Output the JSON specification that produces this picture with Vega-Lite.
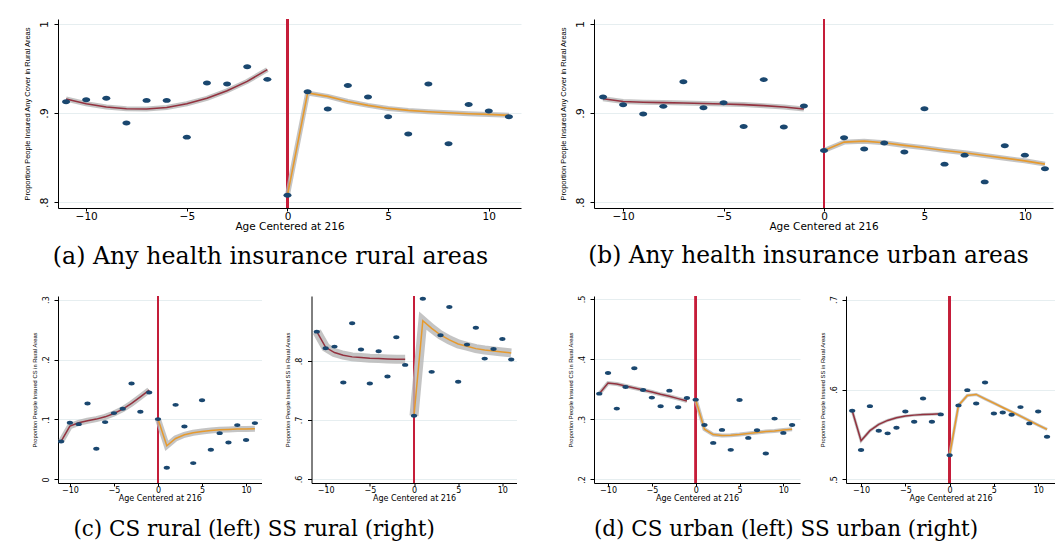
{
  "$schema": "https://vega.github.io/schema/vega-lite/v6.json",
  "background": "white",
  "padding": {"left": 23, "top": 18, "right": 0, "bottom": 0},
  "config": {
    "view": {"stroke": null, "fill": "white"},
    "axis": {"domainColor": "black", "tickColor": "black", "labelColor": "black", "titleColor": "black", "titleFontWeight": "normal", "labelFont": "DejaVu Sans", "titleFont": "DejaVu Sans"},
    "axisX": {"grid": false},
    "axisY": {"grid": true, "gridColor": "#e6eef0", "gridWidth": 1, "labelAngle": 270, "labelAlign": "center", "labelBaseline": "bottom", "titleFont": "Liberation Sans"},
    "title": {"font": "DejaVu Serif", "fontWeight": "normal", "color": "black", "orient": "bottom", "anchor": "middle"}
  },
  "datasets": {
    "a": [
      {"x": -11, "y": 0.9127, "f": 0.9157, "s": "L"}, {"x": -10, "y": 0.915, "f": 0.9105, "s": "L"}, {"x": -9, "y": 0.9165, "f": 0.9068, "s": "L"}, {"x": -8, "y": 0.8888, "f": 0.9048, "s": "L"}, {"x": -7, "y": 0.9142, "f": 0.9045, "s": "L"}, {"x": -6, "y": 0.9142, "f": 0.9062, "s": "L"}, {"x": -5, "y": 0.873, "f": 0.9105, "s": "L"}, {"x": -4, "y": 0.9337, "f": 0.9165, "s": "L"}, {"x": -3, "y": 0.9326, "f": 0.925, "s": "L"}, {"x": -2, "y": 0.952, "f": 0.9355, "s": "L"}, {"x": -1, "y": 0.9378, "f": 0.9487, "s": "L"},
      {"x": 0, "y": 0.8079, "f": 0.808, "s": "R"}, {"x": 1, "y": 0.924, "f": 0.9225, "s": "R"}, {"x": 2, "y": 0.9045, "f": 0.9187, "s": "R"}, {"x": 3, "y": 0.931, "f": 0.913, "s": "R"}, {"x": 4, "y": 0.918, "f": 0.9086, "s": "R"}, {"x": 5, "y": 0.8959, "f": 0.9052, "s": "R"}, {"x": 6, "y": 0.8764, "f": 0.903, "s": "R"}, {"x": 7, "y": 0.9326, "f": 0.9015, "s": "R"}, {"x": 8, "y": 0.8655, "f": 0.9004, "s": "R"}, {"x": 9, "y": 0.9097, "f": 0.8993, "s": "R"}, {"x": 10, "y": 0.9022, "f": 0.8985, "s": "R"}, {"x": 11, "y": 0.8959, "f": 0.8974, "s": "R"}
    ],
    "b": [
      {"x": -11, "y": 0.918, "f": 0.916, "s": "L"}, {"x": -10, "y": 0.9094, "f": 0.913, "s": "L"}, {"x": -9, "y": 0.8989, "f": 0.9122, "s": "L"}, {"x": -8, "y": 0.9075, "f": 0.9117, "s": "L"}, {"x": -7, "y": 0.9352, "f": 0.9113, "s": "L"}, {"x": -6, "y": 0.906, "f": 0.9108, "s": "L"}, {"x": -5, "y": 0.9116, "f": 0.9102, "s": "L"}, {"x": -4, "y": 0.885, "f": 0.9095, "s": "L"}, {"x": -3, "y": 0.9375, "f": 0.9083, "s": "L"}, {"x": -2, "y": 0.8843, "f": 0.9068, "s": "L"}, {"x": -1, "y": 0.9079, "f": 0.9045, "s": "L"},
      {"x": 0, "y": 0.858, "f": 0.858, "s": "R"}, {"x": 1, "y": 0.8723, "f": 0.8674, "s": "R"}, {"x": 2, "y": 0.8596, "f": 0.8685, "s": "R"}, {"x": 3, "y": 0.8663, "f": 0.8667, "s": "R"}, {"x": 4, "y": 0.8562, "f": 0.8637, "s": "R"}, {"x": 5, "y": 0.9049, "f": 0.861, "s": "R"}, {"x": 6, "y": 0.8427, "f": 0.858, "s": "R"}, {"x": 7, "y": 0.8528, "f": 0.8554, "s": "R"}, {"x": 8, "y": 0.8228, "f": 0.8524, "s": "R"}, {"x": 9, "y": 0.8633, "f": 0.8494, "s": "R"}, {"x": 10, "y": 0.8528, "f": 0.8464, "s": "R"}, {"x": 11, "y": 0.8375, "f": 0.8427, "s": "R"}
    ],
    "c1": [
      {"x": -11, "y": 0.0633, "f": 0.0633, "s": "L"}, {"x": -10, "y": 0.0944, "f": 0.0889, "s": "L"}, {"x": -9, "y": 0.0922, "f": 0.0944, "s": "L"}, {"x": -8, "y": 0.1267, "f": 0.0978, "s": "L"}, {"x": -7, "y": 0.0511, "f": 0.1006, "s": "L"}, {"x": -6, "y": 0.0956, "f": 0.1044, "s": "L"}, {"x": -5, "y": 0.1106, "f": 0.11, "s": "L"}, {"x": -4, "y": 0.1178, "f": 0.1172, "s": "L"}, {"x": -3, "y": 0.16, "f": 0.1267, "s": "L"}, {"x": -2, "y": 0.1128, "f": 0.1378, "s": "L"}, {"x": -1, "y": 0.145, "f": 0.149, "s": "L"},
      {"x": 0, "y": 0.1006, "f": 0.1006, "s": "R"}, {"x": 1, "y": 0.0194, "f": 0.0561, "s": "R"}, {"x": 2, "y": 0.1244, "f": 0.0683, "s": "R"}, {"x": 3, "y": 0.0883, "f": 0.0744, "s": "R"}, {"x": 4, "y": 0.0272, "f": 0.0778, "s": "R"}, {"x": 5, "y": 0.1322, "f": 0.08, "s": "R"}, {"x": 6, "y": 0.0494, "f": 0.0817, "s": "R"}, {"x": 7, "y": 0.0772, "f": 0.0828, "s": "R"}, {"x": 8, "y": 0.0617, "f": 0.0833, "s": "R"}, {"x": 9, "y": 0.0906, "f": 0.0839, "s": "R"}, {"x": 10, "y": 0.0656, "f": 0.0839, "s": "R"}, {"x": 11, "y": 0.0939, "f": 0.0844, "s": "R"}
    ],
    "c2": [
      {"x": -11, "y": 0.8496, "f": 0.8496, "s": "L"}, {"x": -10, "y": 0.8214, "f": 0.823, "s": "L"}, {"x": -9, "y": 0.8242, "f": 0.8141, "s": "L"}, {"x": -8, "y": 0.7634, "f": 0.8096, "s": "L"}, {"x": -7, "y": 0.8637, "f": 0.8068, "s": "L"}, {"x": -6, "y": 0.8192, "f": 0.8056, "s": "L"}, {"x": -5, "y": 0.7617, "f": 0.8045, "s": "L"}, {"x": -4, "y": 0.8163, "f": 0.8039, "s": "L"}, {"x": -3, "y": 0.7735, "f": 0.8034, "s": "L"}, {"x": -2, "y": 0.84, "f": 0.8028, "s": "L"}, {"x": -1, "y": 0.7932, "f": 0.8028, "s": "L"},
      {"x": 0, "y": 0.707, "f": 0.707, "s": "R"}, {"x": 1, "y": 0.9054, "f": 0.8682, "s": "R"}, {"x": 2, "y": 0.7814, "f": 0.8552, "s": "R"}, {"x": 3, "y": 0.8434, "f": 0.8439, "s": "R"}, {"x": 4, "y": 0.8913, "f": 0.8355, "s": "R"}, {"x": 5, "y": 0.7645, "f": 0.8287, "s": "R"}, {"x": 6, "y": 0.8276, "f": 0.8248, "s": "R"}, {"x": 7, "y": 0.8563, "f": 0.8208, "s": "R"}, {"x": 8, "y": 0.8039, "f": 0.8186, "s": "R"}, {"x": 9, "y": 0.8203, "f": 0.8169, "s": "R"}, {"x": 10, "y": 0.8372, "f": 0.8152, "s": "R"}, {"x": 11, "y": 0.8023, "f": 0.8135, "s": "R"}
    ],
    "d1": [
      {"x": -11, "y": 0.3426, "f": 0.3426, "s": "L"}, {"x": -10, "y": 0.3769, "f": 0.3603, "s": "L"}, {"x": -9, "y": 0.3177, "f": 0.3587, "s": "L"}, {"x": -8, "y": 0.3537, "f": 0.3553, "s": "L"}, {"x": -7, "y": 0.3847, "f": 0.352, "s": "L"}, {"x": -6, "y": 0.3487, "f": 0.3487, "s": "L"}, {"x": -5, "y": 0.336, "f": 0.3454, "s": "L"}, {"x": -4, "y": 0.3216, "f": 0.3415, "s": "L"}, {"x": -3, "y": 0.3476, "f": 0.3382, "s": "L"}, {"x": -2, "y": 0.3199, "f": 0.3343, "s": "L"}, {"x": -1, "y": 0.3354, "f": 0.3304, "s": "L"},
      {"x": 0, "y": 0.3326, "f": 0.3326, "s": "R"}, {"x": 1, "y": 0.2906, "f": 0.2834, "s": "R"}, {"x": 2, "y": 0.2607, "f": 0.2745, "s": "R"}, {"x": 3, "y": 0.2823, "f": 0.2729, "s": "R"}, {"x": 4, "y": 0.2491, "f": 0.2734, "s": "R"}, {"x": 5, "y": 0.3321, "f": 0.2745, "s": "R"}, {"x": 6, "y": 0.269, "f": 0.2762, "s": "R"}, {"x": 7, "y": 0.2817, "f": 0.2779, "s": "R"}, {"x": 8, "y": 0.243, "f": 0.2795, "s": "R"}, {"x": 9, "y": 0.3011, "f": 0.2806, "s": "R"}, {"x": 10, "y": 0.2773, "f": 0.2823, "s": "R"}, {"x": 11, "y": 0.2906, "f": 0.2834, "s": "R"}
    ],
    "d2": [
      {"x": -11, "y": 0.5763, "f": 0.5763, "s": "L"}, {"x": -10, "y": 0.5327, "f": 0.5431, "s": "L"}, {"x": -9, "y": 0.5815, "f": 0.5542, "s": "L"}, {"x": -8, "y": 0.5542, "f": 0.5612, "s": "L"}, {"x": -7, "y": 0.5512, "f": 0.5656, "s": "L"}, {"x": -6, "y": 0.5575, "f": 0.5686, "s": "L"}, {"x": -5, "y": 0.5756, "f": 0.5704, "s": "L"}, {"x": -4, "y": 0.5641, "f": 0.5715, "s": "L"}, {"x": -3, "y": 0.59, "f": 0.5723, "s": "L"}, {"x": -2, "y": 0.5641, "f": 0.5726, "s": "L"}, {"x": -1, "y": 0.5723, "f": 0.573, "s": "L"},
      {"x": 0, "y": 0.5268, "f": 0.5268, "s": "R"}, {"x": 1, "y": 0.5823, "f": 0.5823, "s": "R"}, {"x": 2, "y": 0.5993, "f": 0.5933, "s": "R"}, {"x": 3, "y": 0.5845, "f": 0.5945, "s": "R"}, {"x": 4, "y": 0.6078, "f": 0.5896, "s": "R"}, {"x": 5, "y": 0.5734, "f": 0.5848, "s": "R"}, {"x": 6, "y": 0.5745, "f": 0.58, "s": "R"}, {"x": 7, "y": 0.5719, "f": 0.5752, "s": "R"}, {"x": 8, "y": 0.5804, "f": 0.5704, "s": "R"}, {"x": 9, "y": 0.5623, "f": 0.5653, "s": "R"}, {"x": 10, "y": 0.5756, "f": 0.5604, "s": "R"}, {"x": 11, "y": 0.5475, "f": 0.5556, "s": "R"}
    ]
  },
  "vconcat": [
    {
      "hconcat": [
        {
          "width": 463, "height": 189,
          "data": {"name": "a"},
          "title": {"text": "(a) Any health insurance rural areas", "fontSize": 23.7, "offset": 13, "dx": -19},
          "encoding": {"x": {"field": "x", "type": "quantitative", "title": "Age Centered at 216", "scale": {"domain": [-11.4, 11.6], "nice": false, "zero": false}, "axis": {"values": [-10, -5, 0, 5, 10], "labelFontSize": 10.5, "titleFontSize": 10.5, "tickSize": 3, "labelPadding": 0, "titlePadding": 0}}},
          "layer": [
            {"mark": {"type": "rule", "color": "#c41e3a", "strokeWidth": 1.5}, "encoding": {"x": {"datum": 0, "type": "quantitative"}}},
            {"mark": {"type": "line", "color": "#b5b5b5", "strokeWidth": 5, "opacity": 0.8}, "encoding": {"y": {"field": "f", "type": "quantitative", "title": "Proportion People Insured Any Cover in Rural Areas", "scale": {"domain": [0.7935, 1.0055], "nice": false, "zero": false}}, "detail": {"field": "s"}}},
            {"mark": {"type": "line", "strokeWidth": 1.6}, "encoding": {"y": {"field": "f", "type": "quantitative", "title": "Proportion People Insured Any Cover in Rural Areas"}, "color": {"field": "s", "type": "nominal", "scale": {"domain": ["L", "R"], "range": ["#93323f", "#e69a2e"]}, "legend": null}}},
            {"mark": {"type": "point", "filled": true, "opacity": 1, "color": "#1a476f", "shape": "M-1,0A1,0.62,0,1,1,1,0A1,0.62,0,1,1,-1,0Z", "size": 64}, "encoding": {"y": {"field": "y", "type": "quantitative", "title": "Proportion People Insured Any Cover in Rural Areas", "scale": {"domain": [0.7935, 1.0055], "nice": false, "zero": false}, "axis": {"values": [0.8, 0.9, 1], "labelExpr": "datum.value == 0 ? '0' : datum.value == 1 ? '1' : replace(format(datum.value, '.1f'), '0.', '.')", "labelFontSize": 11, "titleFontSize": 7.5, "tickSize": 4, "labelPadding": 5, "titlePadding": 7}}}}
          ]
        },
        {
          "width": 459, "height": 189,
          "data": {"name": "b"},
          "title": {"text": "(b) Any health insurance urban areas", "fontSize": 23.3, "offset": 13, "dx": -15},
          "encoding": {"x": {"field": "x", "type": "quantitative", "title": "Age Centered at 216", "scale": {"domain": [-11.45, 11.4], "nice": false, "zero": false}, "axis": {"values": [-10, -5, 0, 5, 10], "labelFontSize": 10.5, "titleFontSize": 10.5, "tickSize": 3, "labelPadding": 0, "titlePadding": 0}}},
          "layer": [
            {"mark": {"type": "rule", "color": "#c41e3a", "strokeWidth": 1.5}, "encoding": {"x": {"datum": 0, "type": "quantitative"}}},
            {"mark": {"type": "line", "color": "#b5b5b5", "strokeWidth": 5, "opacity": 0.8}, "encoding": {"y": {"field": "f", "type": "quantitative", "title": "Proportion People Insured Any Cover in Rural Areas", "scale": {"domain": [0.7935, 1.0055], "nice": false, "zero": false}}, "detail": {"field": "s"}}},
            {"mark": {"type": "line", "strokeWidth": 1.6}, "encoding": {"y": {"field": "f", "type": "quantitative", "title": "Proportion People Insured Any Cover in Rural Areas"}, "color": {"field": "s", "type": "nominal", "scale": {"domain": ["L", "R"], "range": ["#93323f", "#e69a2e"]}, "legend": null}}},
            {"mark": {"type": "point", "filled": true, "opacity": 1, "color": "#1a476f", "shape": "M-1,0A1,0.62,0,1,1,1,0A1,0.62,0,1,1,-1,0Z", "size": 64}, "encoding": {"y": {"field": "y", "type": "quantitative", "title": "Proportion People Insured Any Cover in Rural Areas", "scale": {"domain": [0.7935, 1.0055], "nice": false, "zero": false}, "axis": {"values": [0.8, 0.9, 1], "labelExpr": "datum.value == 0 ? '0' : datum.value == 1 ? '1' : replace(format(datum.value, '.1f'), '0.', '.')", "labelFontSize": 11, "titleFontSize": 7.5, "tickSize": 4, "labelPadding": 5, "titlePadding": 7}}}}
          ]
        }
      ],
      "spacing": 38
    },
    {
      "hconcat": [
        {
          "title": {"text": "(c) CS rural (left) SS rural (right)", "fontSize": 21.5, "offset": 17, "dx": -26},
          "hconcat": [
            {
              "width": 203.5, "height": 187,
              "data": {"name": "c1"},
              "encoding": {"x": {"field": "x", "type": "quantitative", "title": "Age Centered at 216", "scale": {"domain": [-11.35, 11.75], "nice": false, "zero": false}, "axis": {"values": [-10, -5, 0, 5, 10], "labelFontSize": 8, "titleFontSize": 8, "tickSize": 3, "labelPadding": 0, "titlePadding": 0}}},
              "layer": [
                {"mark": {"type": "rule", "color": "#c41e3a", "strokeWidth": 1.5}, "encoding": {"x": {"datum": 0, "type": "quantitative"}}},
                {"mark": {"type": "line", "color": "#b5b5b5", "strokeWidth": 6, "opacity": 0.8}, "encoding": {"y": {"field": "f", "type": "quantitative", "title": "Proportion People Insured CS in Rural Areas", "scale": {"domain": [-0.006, 0.306], "nice": false, "zero": false}}, "detail": {"field": "s"}}},
                {"mark": {"type": "line", "strokeWidth": 1.5}, "encoding": {"y": {"field": "f", "type": "quantitative", "title": "Proportion People Insured CS in Rural Areas"}, "color": {"field": "s", "type": "nominal", "scale": {"domain": ["L", "R"], "range": ["#93323f", "#e69a2e"]}, "legend": null}}},
                {"mark": {"type": "point", "filled": true, "opacity": 1, "color": "#1a476f", "shape": "M-1,0A1,0.62,0,1,1,1,0A1,0.62,0,1,1,-1,0Z", "size": 40}, "encoding": {"y": {"field": "y", "type": "quantitative", "title": "Proportion People Insured CS in Rural Areas", "scale": {"domain": [-0.006, 0.306], "nice": false, "zero": false}, "axis": {"values": [0, 0.1, 0.2, 0.3], "labelExpr": "datum.value == 0 ? '0' : datum.value == 1 ? '1' : replace(format(datum.value, '.1f'), '0.', '.')", "labelFontSize": 8, "titleFontSize": 5.8, "tickSize": 4, "labelPadding": 4, "titlePadding": 5}}}}
              ]
            },
            {
              "width": 205, "height": 187,
              "data": {"name": "c2"},
              "encoding": {"x": {"field": "x", "type": "quantitative", "title": "Age Centered at 216", "scale": {"domain": [-11.6, 11.6], "nice": false, "zero": false}, "axis": {"values": [-10, -5, 0, 5, 10], "labelFontSize": 8, "titleFontSize": 8, "tickSize": 3, "labelPadding": 0, "titlePadding": 0}}},
              "layer": [
                {"mark": {"type": "rule", "color": "#c41e3a", "strokeWidth": 1.5}, "encoding": {"x": {"datum": 0, "type": "quantitative"}}},
                {"mark": {"type": "line", "color": "#b5b5b5", "strokeWidth": 9, "opacity": 0.8}, "encoding": {"y": {"field": "f", "type": "quantitative", "title": "Proportion People Insured SS in Rural Areas", "scale": {"domain": [0.593, 0.91], "nice": false, "zero": false}}, "detail": {"field": "s"}}},
                {"mark": {"type": "line", "strokeWidth": 1.5}, "encoding": {"y": {"field": "f", "type": "quantitative", "title": "Proportion People Insured SS in Rural Areas"}, "color": {"field": "s", "type": "nominal", "scale": {"domain": ["L", "R"], "range": ["#93323f", "#e69a2e"]}, "legend": null}}},
                {"mark": {"type": "point", "filled": true, "opacity": 1, "color": "#1a476f", "shape": "M-1,0A1,0.62,0,1,1,1,0A1,0.62,0,1,1,-1,0Z", "size": 40}, "encoding": {"y": {"field": "y", "type": "quantitative", "title": "Proportion People Insured SS in Rural Areas", "scale": {"domain": [0.593, 0.91], "nice": false, "zero": false}, "axis": {"values": [0.6, 0.7, 0.8], "labelExpr": "datum.value == 0 ? '0' : datum.value == 1 ? '1' : replace(format(datum.value, '.1f'), '0.', '.')", "labelFontSize": 8, "titleFontSize": 5.8, "tickSize": 4, "labelPadding": 4, "titlePadding": 5}}}}
              ]
            }
          ],
          "spacing": 17.5
        },
        {
          "title": {"text": "(d) CS urban (left) SS urban (right)", "fontSize": 21.5, "offset": 17, "dx": -25},
          "hconcat": [
            {
              "width": 206, "height": 187,
              "data": {"name": "d1"},
              "encoding": {"x": {"field": "x", "type": "quantitative", "title": "Age Centered at 216", "scale": {"domain": [-11.6, 11.9], "nice": false, "zero": false}, "axis": {"values": [-10, -5, 0, 5, 10], "labelFontSize": 8, "titleFontSize": 8, "tickSize": 3, "labelPadding": 0, "titlePadding": 0}}},
              "layer": [
                {"mark": {"type": "rule", "color": "#c41e3a", "strokeWidth": 1.5}, "encoding": {"x": {"datum": 0, "type": "quantitative"}}},
                {"mark": {"type": "line", "color": "#b5b5b5", "strokeWidth": 4, "opacity": 0.8}, "encoding": {"y": {"field": "f", "type": "quantitative", "title": "Proportion People Insured CS in Rural Areas", "scale": {"domain": [0.194, 0.505], "nice": false, "zero": false}}, "detail": {"field": "s"}}},
                {"mark": {"type": "line", "strokeWidth": 1.5}, "encoding": {"y": {"field": "f", "type": "quantitative", "title": "Proportion People Insured CS in Rural Areas"}, "color": {"field": "s", "type": "nominal", "scale": {"domain": ["L", "R"], "range": ["#93323f", "#e69a2e"]}, "legend": null}}},
                {"mark": {"type": "point", "filled": true, "opacity": 1, "color": "#1a476f", "shape": "M-1,0A1,0.62,0,1,1,1,0A1,0.62,0,1,1,-1,0Z", "size": 40}, "encoding": {"y": {"field": "y", "type": "quantitative", "title": "Proportion People Insured CS in Rural Areas", "scale": {"domain": [0.194, 0.505], "nice": false, "zero": false}, "axis": {"values": [0.2, 0.3, 0.4, 0.5], "labelExpr": "datum.value == 0 ? '0' : datum.value == 1 ? '1' : replace(format(datum.value, '.1f'), '0.', '.')", "labelFontSize": 8, "titleFontSize": 5.8, "tickSize": 4, "labelPadding": 4, "titlePadding": 5}}}}
              ]
            },
            {
              "width": 209, "height": 187,
              "data": {"name": "d2"},
              "encoding": {"x": {"field": "x", "type": "quantitative", "title": "Age Centered at 216", "scale": {"domain": [-11.7, 11.9], "nice": false, "zero": false}, "axis": {"values": [-10, -5, 0, 5, 10], "labelFontSize": 8, "titleFontSize": 8, "tickSize": 3, "labelPadding": 0, "titlePadding": 0}}},
              "layer": [
                {"mark": {"type": "rule", "color": "#c41e3a", "strokeWidth": 1.5}, "encoding": {"x": {"datum": 0, "type": "quantitative"}}},
                {"mark": {"type": "line", "color": "#b5b5b5", "strokeWidth": 3, "opacity": 0.8}, "encoding": {"y": {"field": "f", "type": "quantitative", "title": "Proportion People Insured SS in Rural Areas", "scale": {"domain": [0.496, 0.704], "nice": false, "zero": false}}, "detail": {"field": "s"}}},
                {"mark": {"type": "line", "strokeWidth": 1.5}, "encoding": {"y": {"field": "f", "type": "quantitative", "title": "Proportion People Insured SS in Rural Areas"}, "color": {"field": "s", "type": "nominal", "scale": {"domain": ["L", "R"], "range": ["#93323f", "#e69a2e"]}, "legend": null}}},
                {"mark": {"type": "point", "filled": true, "opacity": 1, "color": "#1a476f", "shape": "M-1,0A1,0.62,0,1,1,1,0A1,0.62,0,1,1,-1,0Z", "size": 40}, "encoding": {"y": {"field": "y", "type": "quantitative", "title": "Proportion People Insured SS in Rural Areas", "scale": {"domain": [0.496, 0.704], "nice": false, "zero": false}, "axis": {"values": [0.5, 0.6, 0.7], "labelExpr": "datum.value == 0 ? '0' : datum.value == 1 ? '1' : replace(format(datum.value, '.1f'), '0.', '.')", "labelFontSize": 8, "titleFontSize": 5.8, "tickSize": 4, "labelPadding": 4, "titlePadding": 5}}}}
              ]
            }
          ],
          "spacing": 18
        }
      ],
      "spacing": 37
    }
  ],
  "spacing": 26
}
